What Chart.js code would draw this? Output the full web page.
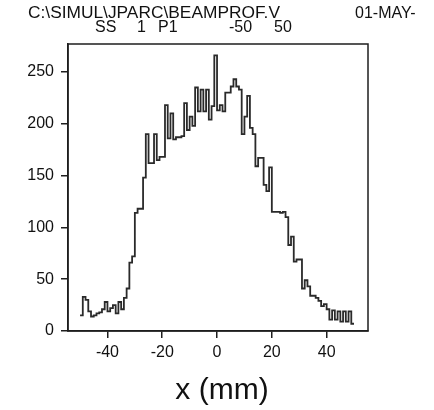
<!DOCTYPE html>
<html lang="en">
<head>
<meta charset="UTF-8">
<title>Beam Profile</title>
<script src="https://cdn.jsdelivr.net/npm/chart.js"></script>
<style>
    body { margin: 0; background: #fff; }
</style>
</head>
<body>
<canvas id="profileChart" width="434" height="410"></canvas>

<script>
    // histogram bins, 1 mm wide, first bin starts at -50 mm
    const binStart = -50;
    const binWidth = 1;
    const counts = [
        15, 33, 30, 19, 14, 15, 17, 18, 21, 28,
        19, 22, 25, 17, 28, 21, 32, 41, 66, 72,
        114, 118, 118, 148, 190, 162, 162, 190, 165, 168,
        168, 218, 186, 210, 185, 187, 187, 188, 220, 194,
        207, 198, 235, 212, 233, 212, 233, 204, 217, 266,
        213, 218, 212, 230, 230, 236, 243, 236, 233, 190,
        207, 227, 196, 190, 159, 167, 167, 141, 135, 158,
        115, 115, 115, 114, 115, 110, 83, 91, 67, 69,
        69, 41, 49, 43, 34, 34, 32, 29, 24, 26,
        21, 11, 20, 11, 19, 9, 19, 9, 19, 7
    ];
    const xTicks = [-40, -20, 0, 20, 40];
    const yTicks = [0, 50, 100, 150, 200, 250];
    const headerPath = 'C:\\SIMUL\\JPARC\\BEAMPROF.V';
    const headerDate = '01-MAY-';
    const headerParams = ['SS', '1', 'P1', '-50', '50'];
    const xTitle = 'x (mm)';

    // step line: each point starts a bin, last point closes the final bin
    var points = counts.map(function(c, i) {
        return { x: binStart + i * binWidth, y: c };
    });
    points.push({ x: binStart + counts.length * binWidth, y: counts[counts.length - 1] });

    var ink = '#1e1e1e';
    var font = 'Liberation Sans, Arial, sans-serif';

    var textPlugin = {
        id: 'textPlugin',
        afterDraw: function(chart) {
            var ctx = chart.ctx;
            var a = chart.chartArea;
            ctx.save();
            // frame
            ctx.strokeStyle = ink;
            ctx.lineWidth = 1.5;
            ctx.strokeRect(a.left, a.top, a.right - a.left, a.bottom - a.top);

            ctx.fillStyle = '#111';
            ctx.textBaseline = 'alphabetic';
            ctx.textAlign = 'left';
            ctx.font = '16px ' + font;

            // first header line, stretched a little like the original
            var w = ctx.measureText(headerPath).width;
            ctx.save();
            ctx.translate(28, 18);
            ctx.scale(252 / w, 1);
            ctx.fillText(headerPath, 0, 0);
            ctx.restore();
            ctx.fillText(headerDate, 355, 18);

            var px = [95, 137, 158, 229, 274];
            headerParams.forEach(function(t, i) {
                ctx.fillText(t, px[i], 32);
            });

            ctx.font = '30px ' + font;
            ctx.textAlign = 'center';
            ctx.fillText(xTitle, 222, 399);
            ctx.restore();
        }
    };

    var ctx = document.getElementById('profileChart').getContext('2d');
    var chart = new Chart(ctx, {
        type: 'line',
        data: {
            datasets: [{
                data: points,
                stepped: true,
                borderColor: '#2a2a2a',
                borderWidth: 1.8,
                pointRadius: 0,
                fill: false
            }]
        },
        options: {
            responsive: false,
            animation: false,
            devicePixelRatio: 1,
            layout: { padding: { top: 44, right: 66, left: 0, bottom: 0 } },
            plugins: {
                legend: { display: false },
                tooltip: { enabled: false }
            },
            scales: {
                x: {
                    type: 'linear',
                    min: -54.4,
                    max: 55.1,
                    afterBuildTicks: function(axis) {
                        axis.ticks = xTicks.map(function(v) { return { value: v }; });
                    },
                    afterFit: function(axis) { axis.height = 79; },
                    grid: { drawOnChartArea: false, tickLength: 7, color: ink, lineWidth: 1.5 },
                    border: { color: ink, width: 1.5 },
                    ticks: {
                        color: '#111',
                        padding: 5,
                        maxRotation: 0,
                        autoSkip: false,
                        font: { family: font, size: 16 }
                    }
                },
                y: {
                    min: 0,
                    max: 277,
                    afterBuildTicks: function(axis) {
                        axis.ticks = yTicks.map(function(v) { return { value: v }; });
                    },
                    afterFit: function(axis) { axis.width = 68; },
                    grid: { drawOnChartArea: false, tickLength: 7, color: ink, lineWidth: 1.5 },
                    border: { color: ink, width: 1.5 },
                    ticks: {
                        color: '#111',
                        padding: 7,
                        autoSkip: false,
                        font: { family: font, size: 16 }
                    }
                }
            }
        },
        plugins: [textPlugin]
    });
</script>

</body>
</html>
